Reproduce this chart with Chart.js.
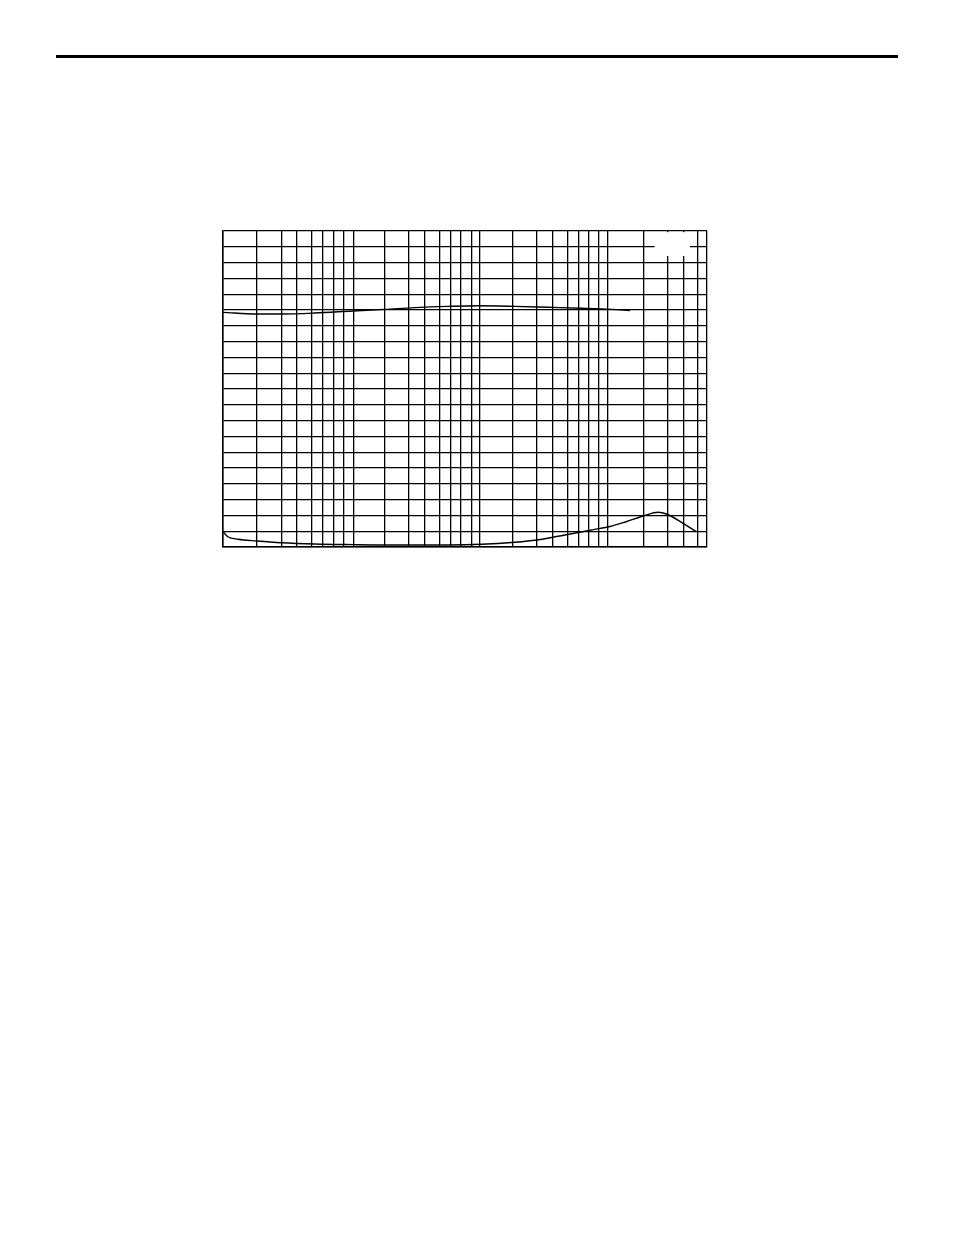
<!DOCTYPE html>
<html>
<head>
<meta charset="utf-8">
<script src="https://cdn.jsdelivr.net/npm/chart.js@4.4.0/dist/chart.umd.min.js"></script>
<style>
    body { margin: 0; background: #fff; }
    #page { position: relative; width: 954px; height: 1235px; overflow: hidden; }
    #rule { position: absolute; left: 56px; top: 55px; width: 842px; height: 3px; background: #000; }
    #graph { position: absolute; left: 0; top: 0; }
</style>
</head>
<body>
<div id="page">
    <div id="rule"></div>
    <canvas id="graph" width="954" height="1235"></canvas>
</div>
<script>
// frequency grid (log axis)
const gridFreq = [10, 18.4, 28.6, 37.9, 49.6, 60.4, 72.9, 88.2, 104,
    182, 279, 372, 491, 598, 716, 872, 1000,
    1820, 2810, 3720, 4870, 5930, 7110, 8610, 10070,
    19100, 29400, 39300, 50500, 60000];
const gridLevel = [0, 1, 2, 3, 4, 5, 6, 7, 8, 9, 10, 11, 12, 13, 14, 15, 16, 17, 18, 19, 20];

// upper trace
const upperFreq = [10, 18.4, 28.6, 52, 103, 183, 314, 570, 979, 1900, 3460, 6310, 10850, 15000];
const upperVals = [14.85, 14.75, 14.75, 14.81, 14.94, 15.04, 15.15, 15.23, 15.27, 15.23, 15.17, 15.11, 15.04, 14.97];

// lower trace
const lowerFreq = [10, 10.9, 13.1, 18.4, 28.6, 52, 103, 183, 314, 570, 1040, 1900, 2810, 4660, 7790, 10500, 14000, 19100, 24900, 29000, 39000, 49600];
const lowerVals = [0.97, 0.65, 0.49, 0.38, 0.27, 0.19, 0.15, 0.13, 0.13, 0.13, 0.17, 0.30, 0.44, 0.76, 1.10, 1.30, 1.60, 1.96, 2.20, 2.09, 1.50, 0.97];

function toPoints(xs, ys) {
    return xs.map((x, i) => ({ x: x, y: ys[i] }));
}

// blank legend box in the top right corner
const blankBox = {
    id: 'blankBox',
    beforeDatasetsDraw(chart) {
        const xs = chart.scales.x, ys = chart.scales.y;
        const ctx = chart.ctx;
        const x1 = xs.getPixelForValue(23000);
        const x2 = xs.getPixelForValue(45000);
        const y2 = ys.getPixelForValue(18.42);
        ctx.save();
        ctx.fillStyle = '#fff';
        ctx.fillRect(x1 + 1, chart.chartArea.top + 1.2, x2 - x1 - 2, y2 - chart.chartArea.top - 1.2);
        ctx.restore();
    }
};

const lineStyle = {
    borderColor: '#000',
    borderWidth: 1.4,
    pointRadius: 0,
    fill: false,
    cubicInterpolationMode: 'monotone'
};

new Chart(document.getElementById('graph').getContext('2d'), {
    type: 'line',
    data: {
        datasets: [
            Object.assign({ data: toPoints(upperFreq, upperVals) }, lineStyle),
            Object.assign({ data: toPoints(lowerFreq, lowerVals) }, lineStyle)
        ]
    },
    options: {
        responsive: false,
        animation: false,
        events: [],
        layout: { padding: { left: 223, top: 231, right: 247, bottom: 688 } },
        plugins: { legend: { display: false }, tooltip: { enabled: false } },
        scales: {
            x: {
                type: 'logarithmic',
                min: 10,
                max: 60000,
                afterBuildTicks: s => { s.ticks = gridFreq.map(v => ({ value: v })); },
                ticks: { display: false },
                grid: { color: '#000', lineWidth: 1.3, drawTicks: false },
                border: { display: true, color: '#000', width: 1.5 }
            },
            y: {
                type: 'linear',
                min: 0,
                max: 20,
                afterBuildTicks: s => { s.ticks = gridLevel.map(v => ({ value: v })); },
                ticks: { display: false },
                grid: { color: '#000', lineWidth: 1.3, drawTicks: false },
                border: { display: true, color: '#000', width: 1.5 }
            }
        }
    },
    plugins: [blankBox]
});
</script>
</body>
</html>
